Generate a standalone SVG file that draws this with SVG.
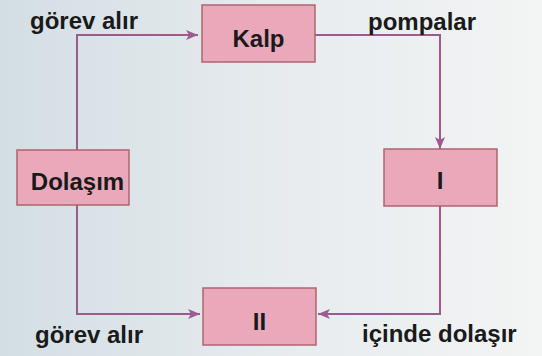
<svg xmlns="http://www.w3.org/2000/svg" width="542" height="356" viewBox="0 0 542 356">
  <defs>
    <linearGradient id="bg" x1="0" y1="0" x2="1" y2="0">
      <stop offset="0" stop-color="#d3dee4"/>
      <stop offset="0.5" stop-color="#e6ebee"/>
      <stop offset="1" stop-color="#f3f4f4"/>
    </linearGradient>
    <marker id="arr" viewBox="0 0 12 10" refX="12" refY="5" markerWidth="12" markerHeight="10" markerUnits="userSpaceOnUse" orient="auto">
      <path d="M0,0 L12,5 L0,10 L3,5 Z" fill="#9c5a8e"/>
    </marker>
    <style>
      .box { fill: #eaa9ba; stroke: #b0646e; stroke-width: 1.5; }
      .lbl { font-family: "Liberation Sans", Arial, sans-serif; font-weight: bold; font-size: 24px; fill: #1a1a1a; }
      .mid { text-anchor: middle; }
      .conn { fill: none; stroke: #9c5a8e; stroke-width: 2; }
    </style>
  </defs>
  <rect x="0" y="0" width="542" height="356" fill="url(#bg)"/>

  <g id="connectors">
    <path class="conn" d="M77,150 L77,35 L198,35" marker-end="url(#arr)"/>
    <path class="conn" d="M315,35 L440,35 L440,149" marker-end="url(#arr)"/>
    <path class="conn" d="M77,205 L77,314 L200,314" marker-end="url(#arr)"/>
    <path class="conn" d="M440,206 L440,314 L318,314" marker-end="url(#arr)"/>
  </g>

  <g id="kalp">
    <rect class="box" x="202" y="5" width="113" height="57"/>
    <text class="lbl mid" x="258.5" y="47">Kalp</text>
  </g>
  <g id="dolasim">
    <rect class="box" x="17" y="150" width="112" height="55"/>
    <text class="lbl mid" x="77.5" y="190">Dolaşım</text>
  </g>
  <g id="node-I">
    <rect class="box" x="384" y="149" width="113" height="57"/>
    <text class="lbl mid" x="440" y="189">I</text>
  </g>
  <g id="node-II">
    <rect class="box" x="203" y="288" width="113" height="57"/>
    <text class="lbl mid" x="259.5" y="330">II</text>
  </g>

  <g id="labels">
    <text class="lbl" x="30" y="29">görev alır</text>
    <text class="lbl" x="368" y="30">pompalar</text>
    <text class="lbl" x="35" y="343">görev alır</text>
    <text class="lbl" x="362" y="342">içinde dolaşır</text>
  </g>
</svg>
